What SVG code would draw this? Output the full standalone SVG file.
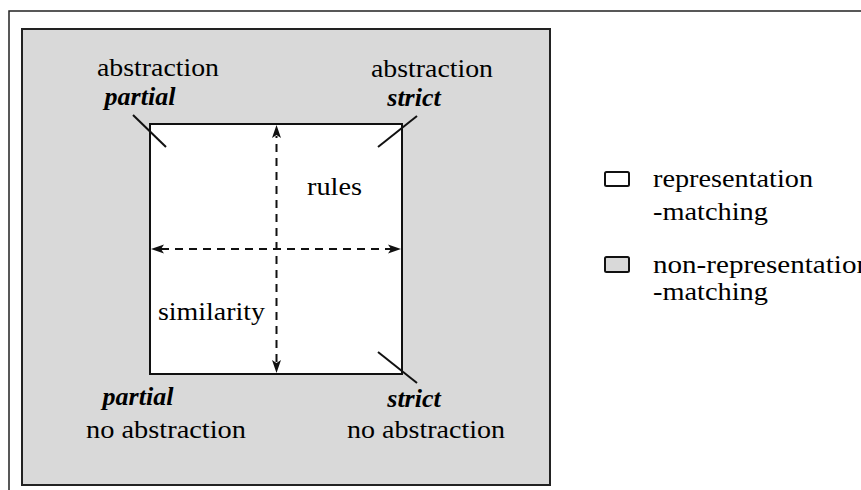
<svg xmlns="http://www.w3.org/2000/svg" width="861" height="490" viewBox="0 0 861 490">
  <rect width="861" height="490" fill="#fff"/>

  <g id="frame">
    <path d="M9,490 V11 H861" fill="none" stroke="#222" stroke-width="1.5"/>
  </g>

  <g id="nonrep-region">
    <rect x="22" y="29" width="528" height="456" fill="#d9d9d9" stroke="#222" stroke-width="2"/>
  </g>

  <g id="rep-region">
    <rect x="150" y="124" width="252" height="250" fill="#fff" stroke="#111" stroke-width="2"/>
  </g>

  <g id="connectors" stroke="#111" stroke-width="2" fill="none">
    <line x1="276.5" y1="362" x2="276.5" y2="136" stroke-dasharray="8 6"/>
    <line x1="161" y1="249" x2="391" y2="249" stroke-dasharray="8 6"/>
    <path d="M276.5,125 L281,138 L276.5,135 L272,138 Z" fill="#111" stroke="none"/>
    <path d="M276.5,373 L281,360 L276.5,363 L272,360 Z" fill="#111" stroke="none"/>
    <path d="M151,249 L164,244.5 L161,249 L164,253.5 Z" fill="#111" stroke="none"/>
    <path d="M401,249 L388,244.5 L391,249 L388,253.5 Z" fill="#111" stroke="none"/>
    <line x1="133" y1="115" x2="166" y2="147"/>
    <line x1="417" y1="116" x2="378" y2="147"/>
    <line x1="378" y1="352" x2="417" y2="383"/>
  </g>

  <g id="label-top-left">
    <text x="158" y="76" text-anchor="middle" font-family="Liberation Serif" font-size="26" textLength="122" lengthAdjust="spacingAndGlyphs">abstraction</text>
    <text x="140" y="105" text-anchor="middle" font-family="Liberation Serif" font-size="26" font-weight="bold" font-style="italic">partial</text>
  </g>
  <g id="label-top-right">
    <text x="432" y="77" text-anchor="middle" font-family="Liberation Serif" font-size="26" textLength="122" lengthAdjust="spacingAndGlyphs">abstraction</text>
    <text x="414" y="106" text-anchor="middle" font-family="Liberation Serif" font-size="26" font-weight="bold" font-style="italic">strict</text>
  </g>
  <g id="label-bottom-left">
    <text x="138" y="405" text-anchor="middle" font-family="Liberation Serif" font-size="26" font-weight="bold" font-style="italic">partial</text>
    <text x="166" y="438" text-anchor="middle" font-family="Liberation Serif" font-size="26" textLength="160" lengthAdjust="spacingAndGlyphs">no abstraction</text>
  </g>
  <g id="label-bottom-right">
    <text x="414" y="407" text-anchor="middle" font-family="Liberation Serif" font-size="26" font-weight="bold" font-style="italic">strict</text>
    <text x="426" y="438" text-anchor="middle" font-family="Liberation Serif" font-size="26" textLength="158" lengthAdjust="spacingAndGlyphs">no abstraction</text>
  </g>
  <g id="label-rules">
    <text x="307" y="195" font-family="Liberation Serif" font-size="26" textLength="55" lengthAdjust="spacingAndGlyphs">rules</text>
  </g>
  <g id="label-similarity">
    <text x="158" y="320" font-family="Liberation Serif" font-size="26" textLength="107" lengthAdjust="spacingAndGlyphs">similarity</text>
  </g>
  <g id="legend-rep">
    <rect x="605" y="172" width="24" height="14" rx="1.5" fill="#fff" stroke="#111" stroke-width="2"/>
    <text x="653" y="187" font-family="Liberation Serif" font-size="26" textLength="160" lengthAdjust="spacingAndGlyphs">representation</text>
    <text x="653" y="220" font-family="Liberation Serif" font-size="26" textLength="115" lengthAdjust="spacingAndGlyphs">-matching</text>
  </g>
  <g id="legend-nonrep">
    <rect x="605" y="257" width="24" height="15" rx="1.5" fill="#d9d9d9" stroke="#111" stroke-width="2"/>
    <text x="653" y="273" font-family="Liberation Serif" font-size="26" textLength="218" lengthAdjust="spacingAndGlyphs">non-representation</text>
    <text x="653" y="300" font-family="Liberation Serif" font-size="26" textLength="115" lengthAdjust="spacingAndGlyphs">-matching</text>
  </g>
</svg>
